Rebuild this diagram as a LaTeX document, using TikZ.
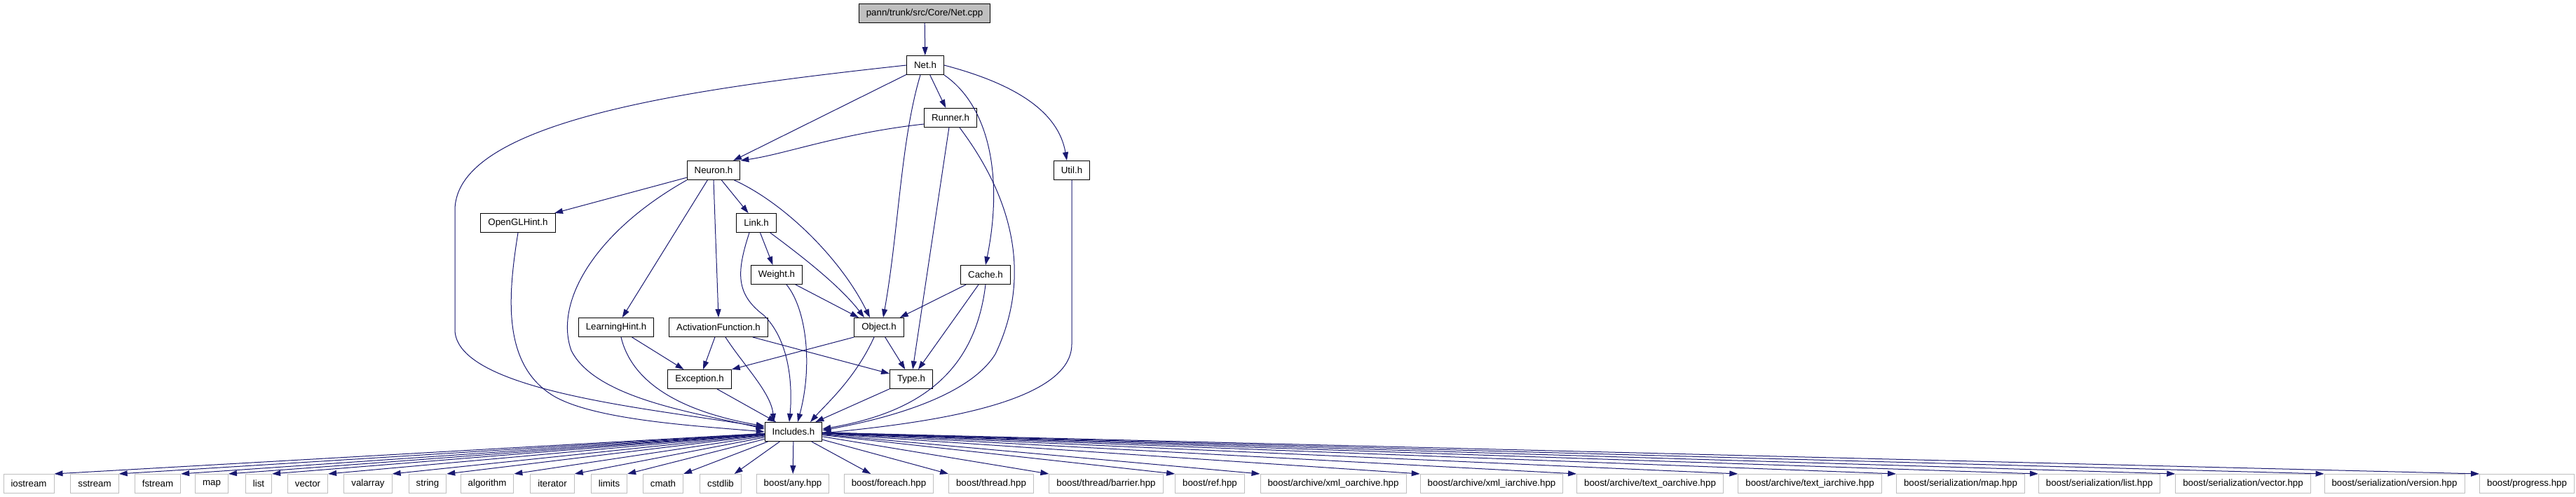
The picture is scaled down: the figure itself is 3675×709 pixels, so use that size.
\documentclass[tikz,border=0pt]{standalone}
\usepackage{fontspec}
\setmainfont{Liberation Sans}
\usepackage{xcolor}
\usepackage{tikz}
\usetikzlibrary{arrows.meta,positioning}
\definecolor{depblue}{HTML}{191970}
\definecolor{sysgrey}{HTML}{BFBFBF}
\newcommand{\hdrfont}{\fontsize{13.3}{16}\selectfont}

\begin{document}
\begin{tikzpicture}[
    x=1pt, y=-1pt,
    hdr/.style={rectangle, draw=black, line width=1pt, inner xsep=10.5pt,
                inner ysep=0pt, minimum height=27pt, font=\hdrfont},
    sys/.style={hdr, draw=sysgrey},
    dep/.style={->, draw=depblue, line width=1pt},
    >={Triangle[length=12pt,width=8pt]}
]
\useasboundingbox (0,0) rectangle (3675,709);

% project headers
\node[hdr, fill=sysgrey] (netcpp) at (1319,19)  {pann/trunk/src/Core/Net.cpp};
\node[hdr] (neth)   at (1320,93)  {Net.h};
\node[hdr] (runner) at (1356,168) {Runner.h};
\node[hdr] (util)   at (1529,243) {Util.h};
\node[hdr] (neuron) at (1018,243) {Neuron.h};
\node[hdr] (opengl) at (739,318)  {OpenGLHint.h};
\node[hdr] (link)   at (1079,318) {Link.h};
\node[hdr] (weight) at (1108,392) {Weight.h};
\node[hdr] (cache)  at (1406,392) {Cache.h};
\node[hdr] (learn)  at (879,467)  {LearningHint.h};
\node[hdr] (actfn)  at (1025,467) {ActivationFunction.h};
\node[hdr] (object) at (1254,467) {Object.h};
\node[hdr] (except) at (998,541)  {Exception.h};
\node[hdr] (type)   at (1300,541) {Type.h};
\node[hdr] (incl)   at (1132,616) {Includes.h};

% system headers
\node[sys] (iostream)  at (41,690)   {iostream};
\node[sys] (sstream)   at (135,690)  {sstream};
\node[sys] (fstream)   at (225,690)  {fstream};
\node[sys] (map)       at (302,690)  {map};
\node[sys] (list)      at (369,690)  {list};
\node[sys] (vector)    at (439,690)  {vector};
\node[sys] (valarray)  at (525,690)  {valarray};
\node[sys] (string)    at (610,690)  {string};
\node[sys] (algorithm) at (695,690)  {algorithm};
\node[sys] (iterator)  at (788,690)  {iterator};
\node[sys] (limits)    at (869,690)  {limits};
\node[sys] (cmath)     at (946,690)  {cmath};
\node[sys] (cstdlib)   at (1028,690) {cstdlib};
\node[sys] (bany)      at (1131,690) {boost/any.hpp};
\node[sys] (bforeach)  at (1268,690) {boost/foreach.hpp};
\node[sys] (bthread)   at (1414,690) {boost/thread.hpp};
\node[sys] (bbarrier)  at (1578,690) {boost/thread/barrier.hpp};
\node[sys] (bref)      at (1726,690) {boost/ref.hpp};
\node[sys] (bxmlo)     at (1902,690) {boost/archive/xml\_oarchive.hpp};
\node[sys] (bxmli)     at (2128,690) {boost/archive/xml\_iarchive.hpp};
\node[sys] (btexto)    at (2354,690) {boost/archive/text\_oarchive.hpp};
\node[sys] (btexti)    at (2582,690) {boost/archive/text\_iarchive.hpp};
\node[sys] (bsmap)     at (2797,690) {boost/serialization/map.hpp};
\node[sys] (bslist)    at (2995,690) {boost/serialization/list.hpp};
\node[sys] (bsvector)  at (3200,690) {boost/serialization/vector.hpp};
\node[sys] (bsversion) at (3416,690) {boost/serialization/version.hpp};
\node[sys] (bprogress) at (3605,690) {boost/progress.hpp};

% Net.cpp / Net.h
\draw[dep] (netcpp) -- (neth);
\draw[dep] (neth) -- (neuron);
\draw[dep] (neth) -- (runner);
\draw[dep] ([xshift=-7pt]neth.south) .. controls (1285,200) and (1282,330) .. ([xshift=6pt]object.north);
\draw[dep] (neth.south east) .. controls (1410,150) and (1432,250) .. (cache.north);
\draw[dep] (neth.east) .. controls (1450,120) and (1510,160) .. ([xshift=-7pt]util.north);
\draw[dep] (neth.west) .. controls (1000,125) and (649,170) .. (649,300) -- (649,470)
    .. controls (649,560) and (950,585) .. ([yshift=6pt]incl.west);

% Runner.h / Util.h
\draw[dep] ([yshift=-9pt]runner.west) .. controls (1200,190) and (1120,220) .. (neuron.north east);
\draw[dep] (runner) -- (type);
\draw[dep] ([xshift=13pt]runner.south) .. controls (1450,290) and (1470,400) .. (1420,505)
    .. controls (1380,570) and (1250,600) .. ([yshift=2pt]incl.east);
\draw[dep] (util.south) -- ++(0,234) .. controls (1529,580) and (1300,605) .. ([yshift=-2pt]incl.east);

% Neuron.h
\draw[dep] (neuron) -- (opengl);
\draw[dep] (neuron) -- (link);
\draw[dep] (neuron) -- (learn);
\draw[dep] (neuron.south) -- (actfn.north);
\draw[dep] ([xshift=-9pt]neuron.south east) .. controls (1120,290) and (1200,370) .. ([xshift=-13pt]object.north);
\draw[dep] (neuron.south west) .. controls (850,330) and (790,430) .. (815,500)
    .. controls (850,570) and (1000,590) .. ([yshift=4pt]incl.west);
\draw[dep] (opengl.south) .. controls (725,420) and (715,520) .. (790,565)
    .. controls (850,600) and (1000,608) .. (incl.west);

% Link.h / Weight.h / Cache.h
\draw[dep] (link) -- (weight);
\draw[dep] ([xshift=-9pt]link.south east) .. controls (1150,370) and (1200,410) .. ([xshift=-21pt]object.north);
\draw[dep] ([xshift=-10pt]link.south) .. controls (1050,390) and (1050,420) .. (1090,450)
    .. controls (1130,490) and (1130,560) .. ([xshift=-6pt]incl.north);
\draw[dep] (weight) -- ([xshift=-29pt]object.north);
\draw[dep] ([xshift=14pt]weight.south) .. controls (1150,440) and (1160,520) .. ([xshift=6pt]incl.north);
\draw[dep] ([xshift=8pt]cache.south west) -- ([xshift=-6pt]object.north east);
\draw[dep] (cache) -- (type);
\draw[dep] (cache.south) .. controls (1390,540) and (1300,590) .. ([yshift=4pt]incl.east);

% LearningHint.h / ActivationFunction.h / Object.h
\draw[dep] (learn) -- (except);
\draw[dep] ([xshift=7pt]learn.south) .. controls (900,540) and (960,585) .. ([yshift=8pt]incl.west);
\draw[dep] (actfn) -- (except);
\draw[dep] ([xshift=10pt]actfn.south) .. controls (1060,520) and (1100,560) .. ([xshift=-28pt]incl.north);
\draw[dep] ([xshift=-22pt]actfn.south east) -- ([yshift=8pt]type.west);
\draw[dep] (object.south west) -- (except.north east);
\draw[dep] (object) -- (type);
\draw[dep] ([xshift=-7pt]object.south) .. controls (1220,540) and (1180,575) .. ([xshift=24pt]incl.north);
\draw[dep] (except) -- (incl);
\draw[dep] (type) -- (incl);

% Includes.h
\draw[dep] (incl) -- (iostream.north east);
\draw[dep] (incl) -- (sstream.north east);
\draw[dep] (incl) -- (fstream.north east);
\draw[dep] (incl) -- (map.north east);
\draw[dep] (incl) -- (list.north east);
\draw[dep] (incl) -- (vector.north east);
\draw[dep] (incl) -- (valarray.north east);
\draw[dep] (incl) -- (string.north east);
\draw[dep] (incl) -- (algorithm.north east);
\draw[dep] (incl) -- (iterator.north east);
\draw[dep] (incl) -- (limits.north east);
\draw[dep] (incl) -- (cmath.north east);
\draw[dep] (incl) -- (cstdlib);
\draw[dep] (incl) -- (bany);
\draw[dep] (incl) -- (bforeach);
\draw[dep] (incl) -- (bthread.north west);
\draw[dep] (incl) -- (bbarrier.north west);
\draw[dep] (incl) -- (bref.north west);
\draw[dep] (incl) -- (bxmlo.north west);
\draw[dep] (incl) -- (bxmli.north west);
\draw[dep] (incl) -- (btexto.north west);
\draw[dep] (incl) -- (btexti.north west);
\draw[dep] (incl) -- (bsmap.north west);
\draw[dep] (incl) -- (bslist.north west);
\draw[dep] (incl) -- (bsvector.north west);
\draw[dep] (incl) -- (bsversion.north west);
\draw[dep] (incl) -- (bprogress.north west);
\end{tikzpicture}
\end{document}
